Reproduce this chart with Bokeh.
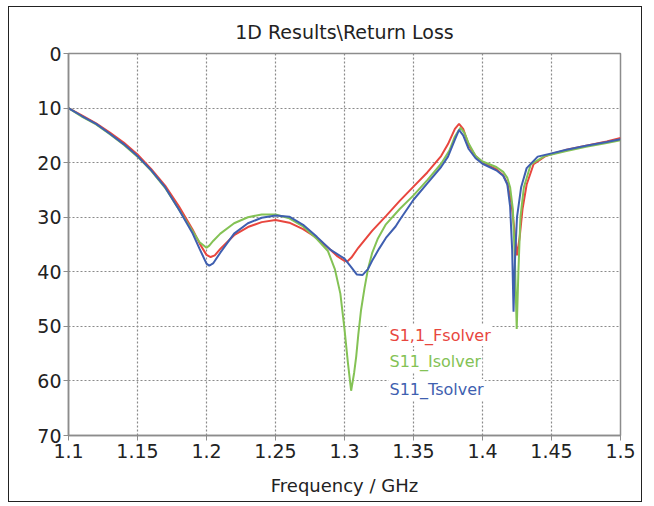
from bokeh.plotting import figure
from bokeh.models import Range1d, FixedTicker, Label
from bokeh.embed import file_html
from bokeh.resources import INLINE

# ---- data ----
f_fsolver = [1.100, 1.110, 1.120, 1.130, 1.140, 1.150, 1.160, 1.170, 1.180, 1.190, 1.195, 1.200,
             1.203, 1.206, 1.210, 1.220, 1.230, 1.240, 1.250, 1.260, 1.270, 1.280, 1.290, 1.295,
             1.300, 1.302, 1.305, 1.310, 1.320, 1.330, 1.340, 1.350, 1.360, 1.370, 1.375, 1.380,
             1.383, 1.386, 1.390, 1.395, 1.400, 1.405, 1.410, 1.415, 1.418, 1.421, 1.423, 1.425,
             1.427, 1.429, 1.432, 1.437, 1.445, 1.450, 1.460, 1.475, 1.490, 1.500]
s_fsolver = [10.0, 11.4, 12.8, 14.5, 16.3, 18.5, 21.2, 24.2, 28.0, 32.3, 34.8, 36.9,
             37.3, 37.0, 35.8, 33.3, 31.8, 30.9, 30.5, 31.0, 32.2, 33.8, 36.0, 37.2,
             38.0, 38.1, 37.4, 35.6, 32.5, 29.8, 27.0, 24.4, 21.8, 18.8, 16.6, 13.8,
             12.9, 13.8, 16.8, 18.8, 20.0, 20.6, 21.2, 22.3, 23.8, 27.5, 32.0, 37.0,
             33.5, 28.5, 24.0, 20.3, 18.9, 18.4, 17.7, 16.9, 16.1, 15.5]

f_isolver = [1.100, 1.110, 1.120, 1.130, 1.140, 1.150, 1.160, 1.170, 1.180, 1.190, 1.195, 1.200,
             1.202, 1.205, 1.210, 1.220, 1.230, 1.240, 1.250, 1.260, 1.270, 1.280, 1.288, 1.293,
             1.297, 1.300, 1.3024, 1.3048, 1.307, 1.3085, 1.310, 1.312, 1.3145, 1.317, 1.320, 1.324,
             1.330, 1.340, 1.350, 1.360, 1.370, 1.376, 1.380, 1.384, 1.387, 1.390, 1.395, 1.400,
             1.405, 1.410, 1.415, 1.418, 1.420, 1.422, 1.4235, 1.4248, 1.426, 1.4275, 1.430, 1.435,
             1.445, 1.450, 1.460, 1.475, 1.490, 1.500]
s_isolver = [10.0, 11.6, 13.0, 14.8, 16.7, 18.9, 21.5, 24.6, 28.6, 32.6, 34.6, 35.6,
             35.2, 34.3, 33.0, 31.1, 30.0, 29.5, 29.5, 30.2, 31.7, 34.0, 36.2, 39.5,
             44.0, 50.5, 56.5, 61.8, 58.5, 55.5, 51.5, 47.0, 43.0, 39.5, 36.6, 34.0,
             31.3, 28.5, 26.0, 23.2, 20.2, 17.8, 15.2, 13.6, 14.6, 16.5, 18.8, 19.8,
             20.3, 20.8, 21.7, 22.8, 24.5, 28.5, 38.0, 50.5, 40.0, 30.0, 24.5, 20.3,
             18.8, 18.5, 17.9, 17.1, 16.4, 15.9]

f_tsolver = [1.100, 1.110, 1.120, 1.130, 1.140, 1.150, 1.160, 1.170, 1.180, 1.190, 1.195, 1.200,
             1.202, 1.205, 1.210, 1.220, 1.230, 1.240, 1.250, 1.260, 1.270, 1.280, 1.290, 1.300,
             1.305, 1.309, 1.313, 1.317, 1.320, 1.325, 1.330, 1.337, 1.340, 1.350, 1.360, 1.370,
             1.375, 1.380, 1.383, 1.386, 1.390, 1.395, 1.400, 1.405, 1.410, 1.415, 1.418, 1.420,
             1.4215, 1.4225, 1.4235, 1.425, 1.428, 1.432, 1.440, 1.450, 1.460, 1.475, 1.490, 1.500]
s_tsolver = [10.0, 11.5, 12.9, 14.7, 16.6, 18.8, 21.4, 24.5, 28.6, 33.0, 35.8, 38.5,
             38.9, 38.4, 36.5, 33.0, 31.1, 30.1, 29.7, 29.9, 31.4, 33.6, 36.0, 37.6,
             39.2, 40.5, 40.6, 39.5, 38.0, 35.8, 33.8, 31.7, 30.5, 26.8, 23.8, 20.8,
             18.9, 15.8, 14.0, 15.0, 17.5, 19.2, 20.2, 20.8, 21.4, 22.4, 24.0, 28.0,
             36.0, 47.3, 38.0, 30.0, 24.5, 21.0, 18.9, 18.3, 17.7, 16.9, 16.2, 15.7]

series_names = ["S1,1_Fsolver", "S11_Isolver", "S11_Tsolver"]
series_colors = ["#e8463e", "#84c255", "#3f5fb0"]

x_ticks = [1.1, 1.15, 1.2, 1.25, 1.3, 1.35, 1.4, 1.45, 1.5]
x_tick_labels = ["1.1", "1.15", "1.2", "1.25", "1.3", "1.35", "1.4", "1.45", "1.5"]
y_ticks = [0, 10, 20, 30, 40, 50, 60, 70]

FONT = "DejaVu Sans"

p = figure(width=634, height=496, output_backend="svg", toolbar_location=None,
           x_range=Range1d(1.1, 1.5), y_range=Range1d(70, 0),
           title="1D Results\\Return Loss",
           min_border_left=59, min_border_right=23, min_border_top=46, min_border_bottom=68)

p.styles = {"border": "1px solid #222", "margin-left": "8px", "margin-top": "6px"}

p.title.align = "center"
p.title.text_font = FONT
p.title.text_font_style = "normal"
p.title.text_font_size = "19px"
p.title.text_color = "#222222"
p.title.offset = 0
p.title.standoff = 21

p.outline_line_color = "#8c8c8c"
p.outline_line_width = 1.5
p.background_fill_color = "white"
p.border_fill_color = "white"

for ax in (p.xaxis[0], p.yaxis[0]):
    ax.axis_line_color = "#8c8c8c"
    ax.axis_line_width = 1.5
    ax.major_tick_line_color = "#8c8c8c"
    ax.major_tick_out = 5
    ax.major_tick_in = 0
    ax.minor_tick_line_color = None
    ax.major_label_text_font = FONT
    ax.major_label_text_font_size = "19px"
    ax.major_label_text_color = "#222222"

p.xaxis.ticker = FixedTicker(ticks=x_ticks)
p.xaxis.major_label_overrides = {t: l for t, l in zip(x_ticks, x_tick_labels)}
p.xaxis.major_label_standoff = 3
p.xaxis.axis_label = "Frequency / GHz"
p.xaxis.axis_label_text_font = FONT
p.xaxis.axis_label_text_font_style = "normal"
p.xaxis.axis_label_text_font_size = "18px"
p.xaxis.axis_label_text_color = "#222222"
p.xaxis.axis_label_standoff = 14

p.yaxis.ticker = FixedTicker(ticks=y_ticks)
p.yaxis.major_label_standoff = 2

for g in (p.xgrid[0], p.ygrid[0]):
    g.grid_line_color = "#8a8a8a"
    g.grid_line_dash = "2 2"
    g.grid_line_width = 1.2

data = [(f_fsolver, s_fsolver), (f_isolver, s_isolver), (f_tsolver, s_tsolver)]
for (fx, sy), c in zip(data, series_colors):
    p.line(fx, sy, line_color=c, line_width=2)

# legend (colored text only, white background), positions relative to plot frame
leg_y = [100, 74, 46]
for name, c, yy in zip(series_names, series_colors, leg_y):
    p.add_layout(Label(x=320, y=yy, x_units="screen", y_units="screen", text=name,
                       text_color=c, text_font=FONT, text_font_size="16px",
                       text_baseline="middle", background_fill_color="white",
                       padding=1))

open("out.html", "w").write(file_html(p, INLINE))
